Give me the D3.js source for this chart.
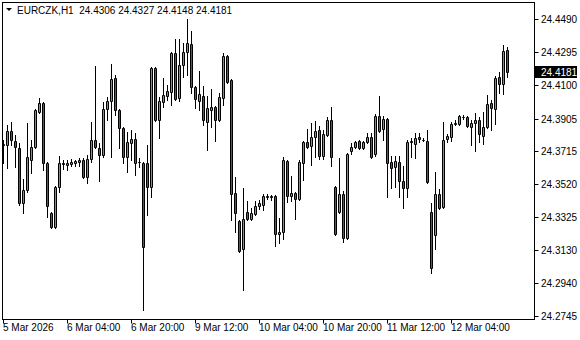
<!DOCTYPE html>
<html lang="en">
<head>
    <meta charset="UTF-8">
    <title>EURCZK H1</title>
    <style>
        body{ margin:0; background:#fff; }
        svg{ display:block; }
        text{ font-family: Tahoma, "Liberation Sans", sans-serif; font-size:10px; fill:#000; }
    </style>
    <script src="https://cdn.jsdelivr.net/npm/d3@7"></script>
</head>
<body>
    <script>
        // bar data, one entry per H1 bar (oldest first)
        const openPrices=[
            24.3756,24.3750,24.3832,24.3773,24.3732,24.3410,24.3485,24.3662,24.3738,24.3943,
            24.3997,24.3644,24.3351,24.3268,24.3503,24.3642,24.3633,24.3639,24.3644,24.3650,
            24.3660,24.3562,24.3668,24.3779,24.3732,24.3691,24.3961,24.4008,24.4143,24.3955,
            24.3850,24.3679,24.3762,24.3785,24.3650,24.3644,24.3644,24.3503,24.4202,24.3897,
            24.4002,24.4038,24.4061,24.4290,24.4026,24.4220,24.4296,24.4343,24.4090,24.4008,
            24.4038,24.3885,24.3955,24.3973,24.3897,24.4026,24.4273,24.4132,24.3468,24.3303,
            24.3139,24.3356,24.3315,24.3345,24.3392,24.3398,24.3450,24.3447,24.3450,24.3227,
            24.3239,24.3656,24.3450,24.3468,24.3433,24.3644,24.3768,24.3744,24.3797,24.3838,
            24.3685,24.3809,24.3897,24.3503,24.3356,24.3462,24.3203,24.3715,24.3738,24.3773,
            24.3732,24.3768,24.3797,24.3697,24.3920,24.3844,24.3903,24.3650,24.3621,24.3650,
            24.3538,24.3497,24.3768,24.3756,24.3797,24.3779,24.3773,24.3356,24.3221,24.3462,
            24.3386,24.3785,24.3797,24.3874,24.3874,24.3917,24.3914,24.3856,24.3880,24.3897,
            24.3803,24.3856,24.3997,24.3961,24.4149,24.4108,24.4306
        ];
        const highPrices=[
            24.3779,24.3868,24.3885,24.3809,24.3762,24.3550,24.3880,24.3779,24.3961,24.4026,
            24.4002,24.3650,24.3357,24.3509,24.3685,24.3662,24.3662,24.3668,24.3662,24.3674,
            24.3674,24.3691,24.3885,24.4214,24.3762,24.4002,24.4032,24.4226,24.4161,24.3961,
            24.3856,24.3826,24.3838,24.3820,24.3674,24.3650,24.3750,24.4208,24.4208,24.4032,
            24.4143,24.4102,24.4296,24.4372,24.4372,24.4349,24.4490,24.4419,24.4096,24.4184,
            24.4096,24.4038,24.4079,24.3979,24.4055,24.4290,24.4279,24.4138,24.3562,24.3309,
            24.3497,24.3421,24.3380,24.3421,24.3427,24.3462,24.3462,24.3456,24.3456,24.3321,
            24.3679,24.3662,24.3568,24.3473,24.3662,24.3773,24.3844,24.3880,24.3891,24.3862,
            24.3838,24.3914,24.3973,24.3509,24.3674,24.3479,24.3703,24.3762,24.3773,24.3779,
            24.3773,24.3820,24.3820,24.3932,24.4038,24.3920,24.3909,24.3685,24.3685,24.3685,
            24.3627,24.3779,24.3791,24.3820,24.3820,24.3791,24.3838,24.3410,24.3591,24.3491,
            24.3885,24.3815,24.3885,24.3897,24.3926,24.3926,24.3920,24.3897,24.3937,24.3914,
            24.3943,24.4043,24.4014,24.4155,24.4179,24.4337,24.4327
        ];
        const lowPrices=[
            24.3644,24.3615,24.3750,24.3621,24.3398,24.3351,24.3473,24.3586,24.3732,24.3937,
            24.3603,24.3327,24.3262,24.3262,24.3473,24.3609,24.3603,24.3627,24.3627,24.3627,
            24.3556,24.3527,24.3650,24.3732,24.3538,24.3679,24.3897,24.3679,24.3926,24.3732,
            24.3644,24.3591,24.3662,24.3574,24.3621,24.2780,24.3339,24.3444,24.3891,24.3791,
            24.3973,24.4014,24.3985,24.4014,24.4008,24.4149,24.4161,24.4055,24.3967,24.3955,
            24.3868,24.3720,24.3856,24.3773,24.3891,24.3985,24.4114,24.3309,24.3239,24.3121,
            24.2898,24.3309,24.3309,24.3339,24.3374,24.3368,24.3433,24.3427,24.3156,24.3174,
            24.3198,24.3415,24.3421,24.3315,24.3427,24.3544,24.3732,24.3633,24.3679,24.3668,
            24.3668,24.3803,24.3627,24.3221,24.3351,24.3180,24.3198,24.3697,24.3732,24.3726,
            24.3726,24.3762,24.3674,24.3685,24.3826,24.3779,24.3444,24.3497,24.3503,24.3444,
            24.3380,24.3444,24.3679,24.3674,24.3768,24.3773,24.3527,24.2998,24.3139,24.3374,
            24.3380,24.3768,24.3773,24.3868,24.3868,24.3903,24.3856,24.3750,24.3715,24.3768,
            24.3756,24.3850,24.3838,24.3874,24.4055,24.4049,24.4148
        ];
        const closePrices=[
            24.3750,24.3832,24.3779,24.3738,24.3410,24.3485,24.3679,24.3738,24.3955,24.3997,
            24.3644,24.3392,24.3268,24.3503,24.3644,24.3639,24.3644,24.3650,24.3653,24.3660,
            24.3562,24.3668,24.3779,24.3738,24.3691,24.3961,24.4008,24.4138,24.3955,24.3850,
            24.3679,24.3768,24.3785,24.3644,24.3647,24.3151,24.3503,24.4202,24.3897,24.4008,
            24.4043,24.4067,24.4290,24.4020,24.4220,24.4296,24.4349,24.4090,24.4020,24.4049,
            24.3897,24.3967,24.3973,24.3897,24.4032,24.4273,24.4120,24.3462,24.3351,24.3127,
            24.3315,24.3315,24.3351,24.3392,24.3410,24.3450,24.3447,24.3450,24.3227,24.3239,
            24.3662,24.3450,24.3468,24.3433,24.3650,24.3768,24.3738,24.3797,24.3832,24.3685,
            24.3815,24.3897,24.3679,24.3227,24.3462,24.3203,24.3697,24.3738,24.3768,24.3732,
            24.3768,24.3797,24.3679,24.3920,24.3832,24.3903,24.3644,24.3615,24.3656,24.3538,
            24.3497,24.3768,24.3771,24.3791,24.3785,24.3779,24.3532,24.3027,24.3462,24.3380,
            24.3779,24.3803,24.3874,24.3877,24.3920,24.3914,24.3862,24.3880,24.3897,24.3815,
            24.3856,24.3991,24.3967,24.4143,24.4108,24.4302,24.4181
        ];
        // time axis labels and the bar they sit under
        const timeTickBars=[0,16,32,48,64,80,96,112];
        const timeTickLabels=["5 Mar 2026","6 Mar 04:00","6 Mar 20:00","9 Mar 12:00",
            "10 Mar 04:00","10 Mar 20:00","11 Mar 12:00","12 Mar 04:00"];
        // price axis
        const priceTicks=[24.4490,24.4295,24.4100,24.3905,24.3715,24.3520,24.3325,24.3130,24.2940,24.2745];
        const symbol="EURCZK,H1";

        const width=580, height=340;
        const frame={left:2.5, top:2.5, right:534.5, bottom:319.5};
        const bull="#32c832", bear="#e41e1e";

        const svg=d3.select("body").append("svg")
            .attr("width",width).attr("height",height);

        const n=openPrices.length;
        const xScale=d3.scaleLinear()
            .domain([0,n-1])
            .range([3,3+4*(n-1)]);
        const yScale=d3.scaleLinear()
            .domain([24.2745,24.4490])
            .range([316,19]);

        //frame
        svg.append("rect")
            .attr("x",frame.left).attr("y",frame.top)
            .attr("width",frame.right-frame.left)
            .attr("height",frame.bottom-frame.top)
            .attr("fill","none").attr("stroke","#000")
            .attr("shape-rendering","crispEdges");

        //candles
        const bars=d3.range(n).map(i=>({
            i:i, o:openPrices[i], h:highPrices[i], l:lowPrices[i], c:closePrices[i]
        }));
        const candle=svg.append("g").attr("class","candles")
            .selectAll("g").data(bars).enter().append("g");

        candle.append("line")
            .attr("x1",d=>Math.round(xScale(d.i))+0.5)
            .attr("x2",d=>Math.round(xScale(d.i))+0.5)
            .attr("y1",d=>Math.round(yScale(d.h)))
            .attr("y2",d=>Math.round(yScale(d.l))+1)
            .attr("stroke","#000");

        candle.append("path")
            .attr("d",d=>{
                const cx=Math.round(xScale(d.i));
                const t=Math.round(yScale(Math.max(d.o,d.c)))+0.5;
                const b=Math.round(yScale(Math.min(d.o,d.c)))+0.5;
                return `M${cx-0.5},${t}H${cx+1.5}V${b}H${cx-0.5}Z`;
            })
            .attr("fill",d=>d.c>=d.o?bull:bear)
            .attr("stroke","#000")
            .attr("stroke-width",1);

        //price axis
        const yAxis=svg.append("g").attr("class","axis");
        yAxis.selectAll("line").data(priceTicks).enter().append("line")
            .attr("x1",frame.right).attr("x2",frame.right+4)
            .attr("y1",d=>Math.round(yScale(d))+0.5)
            .attr("y2",d=>Math.round(yScale(d))+0.5)
            .attr("stroke","#000");
        yAxis.selectAll("text").data(priceTicks).enter().append("text")
            .attr("x",541)
            .attr("y",d=>Math.round(yScale(d))+4)
            .text(d=>d.toFixed(4));

        //current price label
        const last=closePrices[n-1];
        const ly=Math.round(yScale(last));
        svg.append("rect")
            .attr("x",535).attr("y",ly-6)
            .attr("width",42).attr("height",12)
            .attr("fill","#000");
        svg.append("text")
            .attr("x",541).attr("y",ly+4)
            .style("fill","#fff")
            .text(last.toFixed(4));

        //time axis
        const xAxis=svg.append("g").attr("class","axis");
        xAxis.selectAll("line").data(timeTickBars).enter().append("line")
            .attr("x1",d=>Math.round(xScale(d))+0.5)
            .attr("x2",d=>Math.round(xScale(d))+0.5)
            .attr("y1",frame.bottom).attr("y2",frame.bottom+4)
            .attr("stroke","#000");
        xAxis.selectAll("text").data(timeTickBars).enter().append("text")
            .attr("x",d=>Math.round(xScale(d)))
            .attr("y",331)
            .text((d,i)=>timeTickLabels[i]);

        //header
        svg.append("path")
            .attr("d","M6,8H12L9,11Z")
            .attr("fill","#000");
        svg.append("text")
            .attr("x",17).attr("y",14)
            .text(`${symbol}  ${openPrices[n-1].toFixed(4)} ${highPrices[n-1].toFixed(4)} ${lowPrices[n-1].toFixed(4)} ${closePrices[n-1].toFixed(4)}`)
            .attr("xml:space","preserve")
            .style("white-space","pre");
    </script>
</body>
</html>
